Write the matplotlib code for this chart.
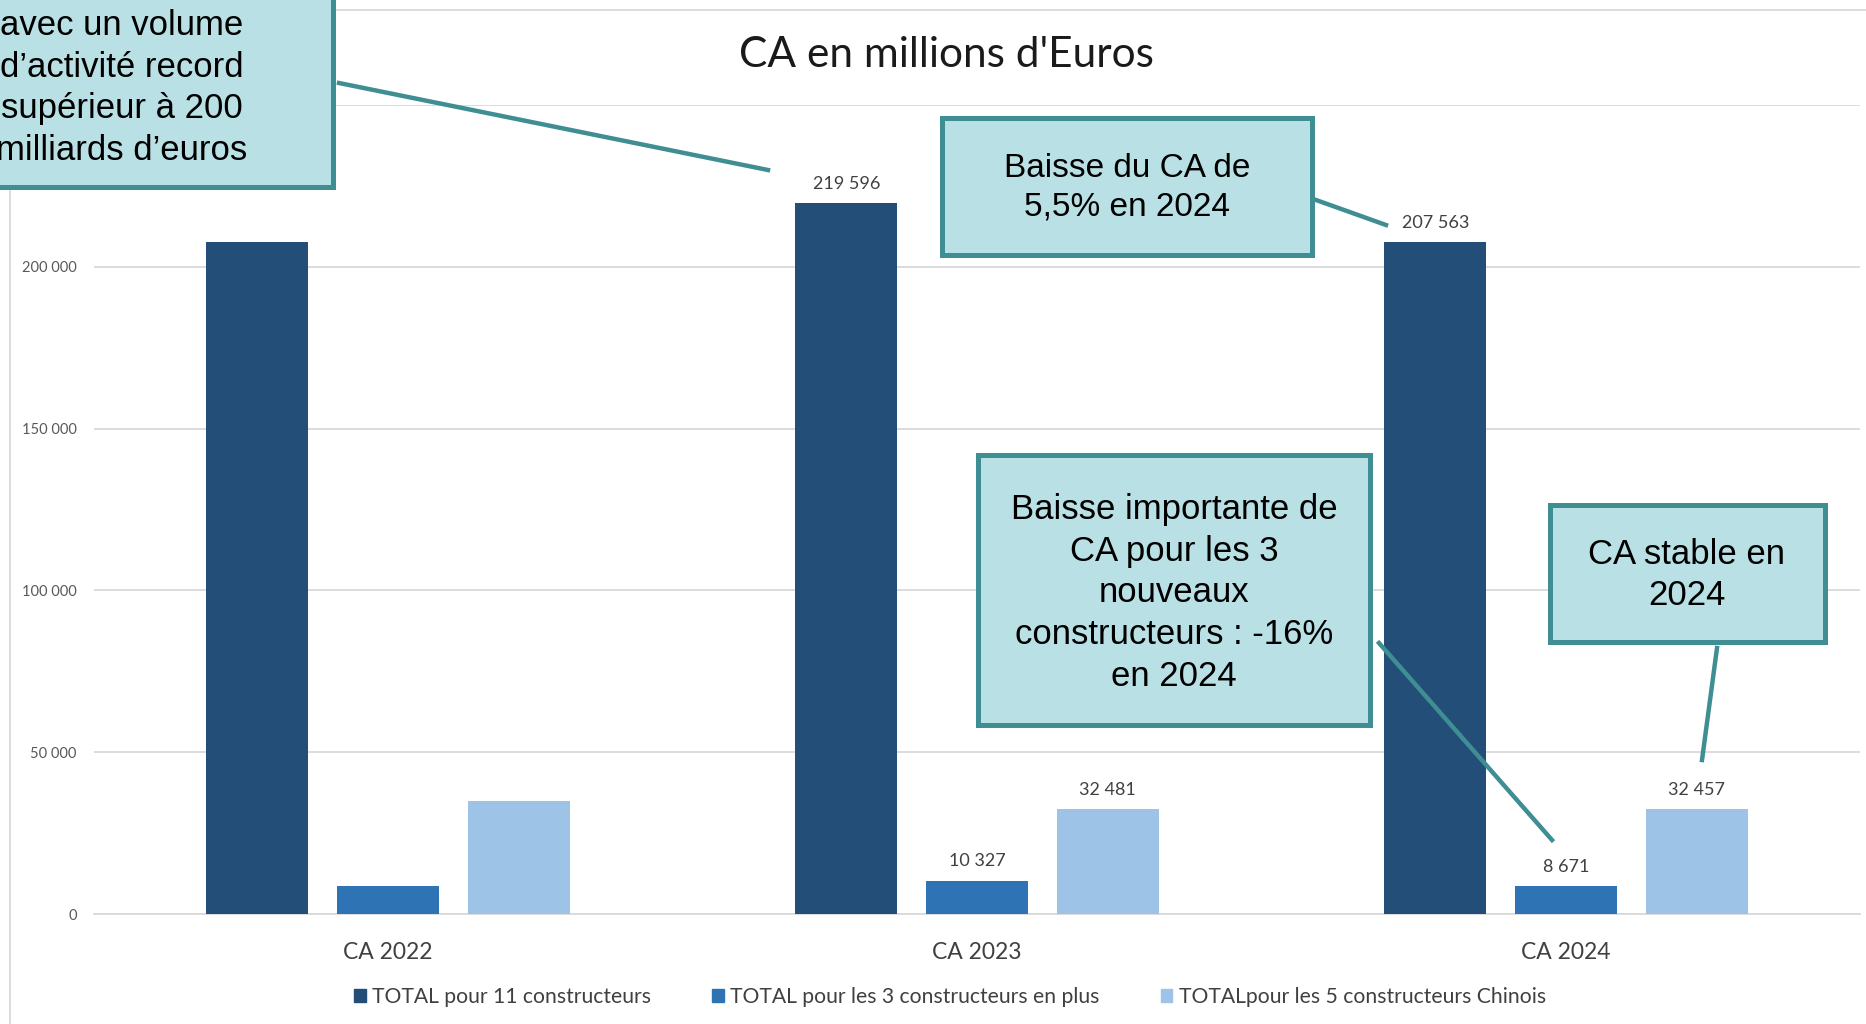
"""CA en millions d'Euros - grouped bars with callouts."""

import matplotlib
matplotlib.use("Agg")
import matplotlib.pyplot as plt
from matplotlib.lines import Line2D
from matplotlib.patches import Rectangle
from matplotlib.ticker import FuncFormatter
import numpy as np

W, H = 1866, 1024

categories = ["CA 2022", "CA 2023", "CA 2024"]
series_names = [
    "TOTAL pour 11 constructeurs",
    "TOTAL pour les 3 constructeurs en plus",
    "TOTALpour les 5 constructeurs Chinois",
]
total_11 = [207600, 219596, 207563]
total_3 = [8700, 10327, 8671]
total_5_cn = [34950, 32481, 32457]
# 2022 bars carry no data label in the original
labels_11 = [None, "219 596", "207 563"]
labels_3 = [None, "10 327", "8 671"]
labels_5_cn = [None, "32 481", "32 457"]

colors = ["#234E78", "#2E74B5", "#9DC3E6"]
teal_edge = "#3E8E93"
teal_fill = "#B9E0E4"
grid_color = "#D9D9D9"

plt.rcParams["font.family"] = ["Lato", "DejaVu Sans"]


def fx(px):
    return px / W


def fy(py):
    return 1 - py / H


def space_thousands(v, _pos=None):
    # top label sits under the first callout box, so leave it blank
    if v >= 250000:
        return ""
    return f"{int(v):,}".replace(",", " ")


fig = plt.figure(figsize=(W / 100, H / 100), dpi=100)
ax = fig.add_axes([fx(93.5), fy(914), (1860.5 - 93.5) / W, (914 - 105) / H])

x = np.arange(len(categories))
width = 0.174
offset = 0.222
all_series = [total_11, total_3, total_5_cn]
all_labels = [labels_11, labels_3, labels_5_cn]
for i, (vals, labs) in enumerate(zip(all_series, all_labels)):
    pos = x + (i - 1) * offset
    ax.bar(pos, vals, width=width, color=colors[i], zorder=3, label=series_names[i])
    for p, v, lab in zip(pos, vals, labs):
        if lab is None:
            continue
        ax.annotate(lab, (p, v), xytext=(0, 8), textcoords="offset points",
                    ha="center", va="bottom", fontsize=13, color="#404040")

ax.set_xlim(-0.5, 2.5)
ax.set_ylim(0, 250000)
ax.set_yticks(np.arange(0, 250001, 50000))
ax.yaxis.set_major_formatter(FuncFormatter(space_thousands))
ax.set_xticks(x)
ax.set_xticklabels(categories, fontsize=16.5, color="#404040")
ax.tick_params(axis="x", length=0, pad=20)
ax.tick_params(axis="y", length=0, pad=12, labelsize=10.5, labelcolor="#595959")
ax.grid(axis="y", color=grid_color, lw=1.3, zorder=0)
for side in ["top", "right", "left"]:
    ax.spines[side].set_visible(False)
ax.spines["bottom"].set_color(grid_color)
ax.spines["bottom"].set_linewidth(1.3)

fig.text(fx(946), fy(55), "CA en millions d'Euros", ha="center", va="center",
         fontsize=30.5, color="#1A1A1A")

handles = [Rectangle((0, 0), 1, 1, color=c) for c in colors]
fig.legend(handles, series_names, loc="center", bbox_to_anchor=(fx(950), fy(997)),
           ncol=3, frameon=False, fontsize=15.2, handlelength=0.55, handleheight=0.55,
           handletextpad=0.3, columnspacing=2.9, labelcolor="#404040")

# chart area border (only top and left visible in the crop)
fig.add_artist(Line2D([fx(10), fx(10)], [fy(10), fy(1030)], color=grid_color,
                      lw=1.3, transform=fig.transFigure))
fig.add_artist(Line2D([fx(10), fx(1870)], [fy(10), fy(10)], color=grid_color,
                      lw=1.3, transform=fig.transFigure))

# callout connectors
connectors = [
    ((339, 83), (768, 170)),
    ((1316, 200), (1386, 225)),
    ((1379, 643), (1552, 840)),
    ((1717, 648), (1702, 760)),
]
for (x0, y0), (x1, y1) in connectors:
    fig.add_artist(Line2D([fx(x0), fx(x1)], [fy(y0), fy(y1)], color=teal_edge,
                          lw=3.2, transform=fig.transFigure, zorder=10))

# callout boxes: (left, top, right, bottom), text, center, size
boxes = [
    ((-20, -20, 333, 187),
     "avec un volume\nd\u2019activité record\nsupérieur à 200\nmilliards d\u2019euros",
     (122, 88), 25),
    ((942, 118, 1312, 255), "Baisse du CA de\n5,5% en 2024", (1127, 188), 24),
    ((978, 455, 1370, 725),
     "Baisse importante de\nCA pour les 3\nnouveaux\nconstructeurs : -16%\nen 2024",
     (1174, 593), 25),
    ((1550, 505, 1825, 642), "CA stable en\n2024", (1687, 575), 25),
]
for (l, t, r, b), txt, (cx, cy), size in boxes:
    fig.add_artist(Rectangle((fx(l), fy(b)), (r - l) / W, (b - t) / H,
                             transform=fig.transFigure, facecolor=teal_fill,
                             edgecolor=teal_edge, lw=3.6, zorder=11))
    fig.text(fx(cx), fy(cy), txt, ha="center", va="center", fontsize=size,
             family=["Liberation Sans", "DejaVu Sans"], color="black",
             linespacing=1.33, zorder=12)

fig.savefig("out.png", dpi=100, facecolor="white")
